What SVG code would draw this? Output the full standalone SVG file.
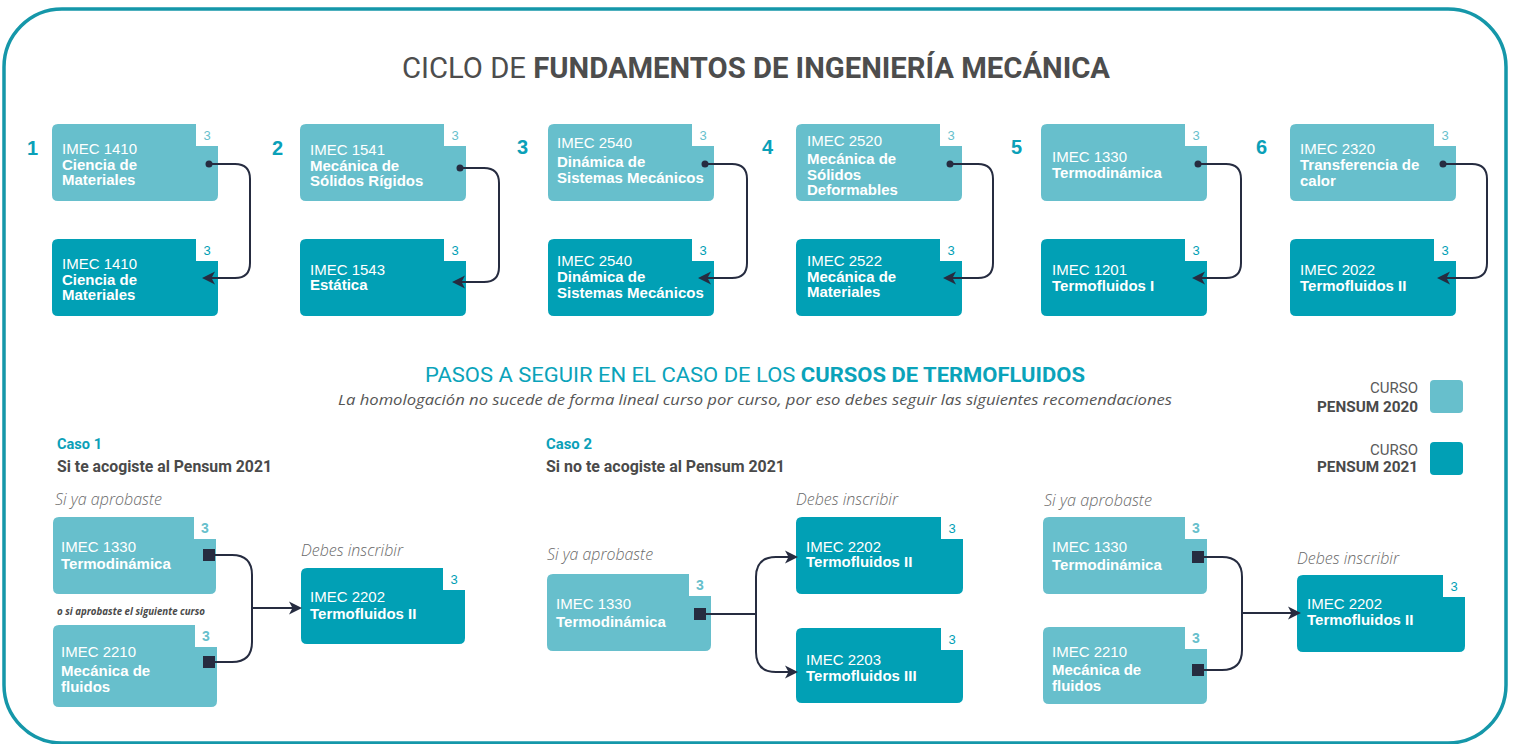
<svg xmlns="http://www.w3.org/2000/svg" xmlns:xlink="http://www.w3.org/1999/xlink" width="1517" height="744" viewBox="0 0 1517 744">
<style>
.bg{fill:#ffffff}
.frame{fill:none;stroke:#1597a9;stroke-width:3.5}
.light{fill:#67bfcc}
.dark{fill:#01a0b5}
.code{font-family:"Liberation Sans",Arial,sans-serif;font-size:15px;fill:#ffffff}
.name{font-family:"Liberation Sans",Arial,sans-serif;font-size:15px;font-weight:bold;fill:#ffffff}
.cr{font-family:"Liberation Sans",Arial,sans-serif;font-size:13px;text-anchor:middle}
.crl{fill:#67bfcc}
.crd{fill:#01a0b5}
.crb{font-weight:bold;font-size:14px}
.num{font-family:"Liberation Sans",Arial,sans-serif;font-size:20px;font-weight:bold;fill:#0aa0b8}
.din{font-family:Roboto,"DejaVu Sans",sans-serif}
.title{font-size:30px;fill:#4d4d4d}
.pasos{font-size:21px;fill:#0aa3ba}
.sub{font-family:"Open Sans",sans-serif;font-style:italic;font-weight:400;font-size:15px;fill:#555555}
.ital{font-family:"Open Sans",sans-serif;font-style:italic;font-weight:300;font-size:17px;fill:#6a6a6a}
.caso{font-size:15px;font-weight:bold;fill:#0aa0b8}
.casosub{font-size:16px;font-weight:bold;fill:#4a4a4a}
.leg1{font-size:15px;fill:#5a5a5a;text-anchor:end}
.leg2{font-size:15px;font-weight:bold;fill:#4a4a4a;text-anchor:end}
.small{font-family:"Open Sans",sans-serif;font-style:italic;font-weight:bold;font-size:10px;fill:#4a4a4a}
.conn{fill:none;stroke:#262c40;stroke-width:2}
.dot{fill:#262c40}
.sq{fill:#262c40}
</style>
<defs>
<path id="cardT" d="M6,0 H144 V22 H166 V71 Q166,77 160,77 H6 Q0,77 0,71 V6 Q0,0 6,0 Z"/>
<marker id="arr" markerUnits="userSpaceOnUse" markerWidth="16" markerHeight="14" viewBox="-15 -7 16 14" refX="-6" refY="0" orient="auto">
<path d="M0,0 L-13,-6.5 L-9.5,0 L-13,6.5 Z" fill="#262c40"/>
</marker>
</defs>
<rect class="bg" x="0" y="0" width="1517" height="744"/>
<rect class="frame" x="4" y="9" width="1502" height="734" rx="58" ry="58"/>

<g id="title">
<text class="din title" x="402" y="78" textLength="708" lengthAdjust="spacingAndGlyphs">CICLO DE <tspan font-weight="bold">FUNDAMENTOS DE INGENIERÍA MECÁNICA</tspan></text>
</g>

<g id="steps">
<text class="num" x="27" y="155">1</text>
<text class="num" x="272" y="155">2</text>
<text class="num" x="517" y="154">3</text>
<text class="num" x="762" y="154">4</text>
<text class="num" x="1011" y="154">5</text>
<text class="num" x="1256" y="154">6</text>
</g>

<g id="c1-old">
<use xlink:href="#cardT" href="#cardT" class="light" transform="translate(52,124)"/>
<text class="cr crl" x="207" y="140">3</text>
<text class="code" x="62" y="154">IMEC 1410</text>
<text class="name" x="62" y="170">Ciencia de</text>
<text class="name" x="62" y="185">Materiales</text>
</g>
<g id="c1-new">
<use xlink:href="#cardT" href="#cardT" class="dark" transform="translate(52,239)"/>
<text class="cr crd" x="207" y="255">3</text>
<text class="code" x="62" y="269">IMEC 1410</text>
<text class="name" x="62" y="285">Ciencia de</text>
<text class="name" x="62" y="300">Materiales</text>
</g>

<g id="c2-old">
<use xlink:href="#cardT" href="#cardT" class="light" transform="translate(300,124)"/>
<text class="cr crl" x="455" y="140">3</text>
<text class="code" x="310" y="155">IMEC 1541</text>
<text class="name" x="310" y="171">Mecánica de</text>
<text class="name" x="310" y="186">Sólidos Rígidos</text>
</g>
<g id="c2-new">
<use xlink:href="#cardT" href="#cardT" class="dark" transform="translate(300,239)"/>
<text class="cr crd" x="455" y="255">3</text>
<text class="code" x="310" y="275">IMEC 1543</text>
<text class="name" x="310" y="290">Estática</text>
</g>

<g id="c3-old">
<use xlink:href="#cardT" href="#cardT" class="light" transform="translate(548,124)"/>
<text class="cr crl" x="703" y="140">3</text>
<text class="code" x="557" y="148">IMEC 2540</text>
<text class="name" x="557" y="167">Dinámica de</text>
<text class="name" x="557" y="183">Sistemas Mecánicos</text>
</g>
<g id="c3-new">
<use xlink:href="#cardT" href="#cardT" class="dark" transform="translate(548,239)"/>
<text class="cr crd" x="703" y="255">3</text>
<text class="code" x="557" y="266">IMEC 2540</text>
<text class="name" x="557" y="282">Dinámica de</text>
<text class="name" x="557" y="298">Sistemas Mecánicos</text>
</g>

<g id="c4-old">
<use xlink:href="#cardT" href="#cardT" class="light" transform="translate(796,124)"/>
<text class="cr crl" x="951" y="140">3</text>
<text class="code" x="807" y="146">IMEC 2520</text>
<text class="name" x="807" y="164">Mecánica de</text>
<text class="name" x="807" y="180">Sólidos</text>
<text class="name" x="807" y="195">Deformables</text>
</g>
<g id="c4-new">
<use xlink:href="#cardT" href="#cardT" class="dark" transform="translate(796,239)"/>
<text class="cr crd" x="951" y="255">3</text>
<text class="code" x="807" y="266">IMEC 2522</text>
<text class="name" x="807" y="282">Mecánica de</text>
<text class="name" x="807" y="297">Materiales</text>
</g>

<g id="c5-old">
<use xlink:href="#cardT" href="#cardT" class="light" transform="translate(1041,124)"/>
<text class="cr crl" x="1196" y="140">3</text>
<text class="code" x="1052" y="162">IMEC 1330</text>
<text class="name" x="1052" y="178">Termodinámica</text>
</g>
<g id="c5-new">
<use xlink:href="#cardT" href="#cardT" class="dark" transform="translate(1041,239)"/>
<text class="cr crd" x="1196" y="255">3</text>
<text class="code" x="1052" y="275">IMEC 1201</text>
<text class="name" x="1052" y="291">Termofluidos I</text>
</g>

<g id="c6-old">
<use xlink:href="#cardT" href="#cardT" class="light" transform="translate(1290,124)"/>
<text class="cr crl" x="1445" y="140">3</text>
<text class="code" x="1300" y="154">IMEC 2320</text>
<text class="name" x="1300" y="170">Transferencia de</text>
<text class="name" x="1300" y="186">calor</text>
</g>
<g id="c6-new">
<use xlink:href="#cardT" href="#cardT" class="dark" transform="translate(1290,239)"/>
<text class="cr crd" x="1445" y="255">3</text>
<text class="code" x="1300" y="275">IMEC 2022</text>
<text class="name" x="1300" y="291">Termofluidos II</text>
</g>

<g id="pasos">
<text class="din pasos" x="425" y="382" textLength="660" lengthAdjust="spacingAndGlyphs">PASOS A SEGUIR EN EL CASO DE LOS <tspan font-weight="bold">CURSOS DE TERMOFLUIDOS</tspan></text>
<text class="sub" x="338" y="405" textLength="834" lengthAdjust="spacingAndGlyphs">La homologación no sucede de forma lineal curso por curso, por eso debes seguir las siguientes recomendaciones</text>
</g>

<g id="legend">
<text class="din leg1" x="1418" y="393">CURSO</text>
<text class="din leg2" x="1418" y="412" textLength="101" lengthAdjust="spacingAndGlyphs">PENSUM 2020</text>
<rect class="light" x="1430" y="380" width="33" height="33" rx="4"/>
<text class="din leg1" x="1418" y="455">CURSO</text>
<text class="din leg2" x="1418" y="472" textLength="101" lengthAdjust="spacingAndGlyphs">PENSUM 2021</text>
<rect class="dark" x="1430" y="442" width="33" height="33" rx="4"/>
</g>

<g id="caso1-head">
<text class="din caso" x="57" y="449" textLength="45" lengthAdjust="spacingAndGlyphs">Caso 1</text>
<text class="din casosub" x="57" y="472" textLength="215" lengthAdjust="spacingAndGlyphs">Si te acogiste al Pensum 2021</text>
<text class="ital" x="55" y="505" textLength="107" lengthAdjust="spacingAndGlyphs">Si ya aprobaste</text>
<text class="small" x="57" y="615" textLength="148" lengthAdjust="spacingAndGlyphs">o si aprobaste el siguiente curso</text>
<text class="ital" x="301" y="556" textLength="102" lengthAdjust="spacingAndGlyphs">Debes inscribir</text>
</g>
<g id="caso1-a">
<path class="light" d="M59,517 H194 V539 H216 V588 Q216,594 210,594 H59 Q53,594 53,588 V523 Q53,517 59,517Z"/>
<text class="cr crl crb" x="205" y="533">3</text>
<text class="code" x="61" y="552">IMEC 1330</text>
<text class="name" x="61" y="569">Termodinámica</text>
</g>
<g id="caso1-b">
<path class="light" d="M59,625 H195 V647 H217 V701 Q217,707 211,707 H59 Q53,707 53,701 V631 Q53,625 59,625Z"/>
<text class="cr crl crb" x="206" y="641">3</text>
<text class="code" x="61" y="657">IMEC 2210</text>
<text class="name" x="61" y="676">Mecánica de</text>
<text class="name" x="61" y="692">fluidos</text>
</g>
<g id="caso1-c">
<path class="dark" d="M307,568 H443 V590 H465 V638 Q465,644 459,644 H307 Q301,644 301,638 V574 Q301,568 307,568Z"/>
<text class="cr crd" x="454" y="584">3</text>
<text class="code" x="310" y="602">IMEC 2202</text>
<text class="name" x="310" y="619">Termofluidos II</text>
</g>

<g id="caso2-head">
<text class="din caso" x="546" y="449" textLength="46" lengthAdjust="spacingAndGlyphs">Caso 2</text>
<text class="din casosub" x="546" y="472" textLength="239" lengthAdjust="spacingAndGlyphs">Si no te acogiste al Pensum 2021</text>
<text class="ital" x="547" y="560" textLength="106" lengthAdjust="spacingAndGlyphs">Si ya aprobaste</text>
<text class="ital" x="796" y="505" textLength="102" lengthAdjust="spacingAndGlyphs">Debes inscribir</text>
</g>
<g id="caso2-a">
<path class="light" d="M553,574 H689 V596 H711 V645 Q711,651 705,651 H553 Q547,651 547,645 V580 Q547,574 553,574Z"/>
<text class="cr crl crb" x="700" y="590">3</text>
<text class="code" x="556" y="609">IMEC 1330</text>
<text class="name" x="556" y="627">Termodinámica</text>
</g>
<g id="caso2-b">
<path class="dark" d="M802,517 H941 V539 H963 V588 Q963,594 957,594 H802 Q796,594 796,588 V523 Q796,517 802,517Z"/>
<text class="cr crd" x="952" y="533">3</text>
<text class="code" x="806" y="552">IMEC 2202</text>
<text class="name" x="806" y="567">Termofluidos II</text>
</g>
<g id="caso2-c">
<path class="dark" d="M802,628 H941 V650 H963 V697 Q963,703 957,703 H802 Q796,703 796,697 V634 Q796,628 802,628Z"/>
<text class="cr crd" x="952" y="644">3</text>
<text class="code" x="806" y="665">IMEC 2203</text>
<text class="name" x="806" y="681">Termofluidos III</text>
</g>

<g id="caso3-head">
<text class="ital" x="1044" y="506" textLength="108" lengthAdjust="spacingAndGlyphs">Si ya aprobaste</text>
<text class="ital" x="1297" y="564" textLength="102" lengthAdjust="spacingAndGlyphs">Debes inscribir</text>
</g>
<g id="caso3-a">
<path class="light" d="M1049,517 H1185 V539 H1207 V588 Q1207,594 1201,594 H1049 Q1043,594 1043,588 V523 Q1043,517 1049,517Z"/>
<text class="cr crl crb" x="1196" y="533">3</text>
<text class="code" x="1052" y="552">IMEC 1330</text>
<text class="name" x="1052" y="570">Termodinámica</text>
</g>
<g id="caso3-b">
<path class="light" d="M1049,627 H1185 V649 H1207 V698 Q1207,704 1201,704 H1049 Q1043,704 1043,698 V633 Q1043,627 1049,627Z"/>
<text class="cr crl crb" x="1196" y="643">3</text>
<text class="code" x="1052" y="657">IMEC 2210</text>
<text class="name" x="1052" y="675">Mecánica de</text>
<text class="name" x="1052" y="691">fluidos</text>
</g>
<g id="caso3-c">
<path class="dark" d="M1303,575 H1443 V597 H1465 V646 Q1465,652 1459,652 H1303 Q1297,652 1297,646 V581 Q1297,575 1303,575Z"/>
<text class="cr crd" x="1454" y="591">3</text>
<text class="code" x="1307" y="609">IMEC 2202</text>
<text class="name" x="1307" y="625">Termofluidos II</text>
</g>

<g id="connectors">
<path class="conn" d="M209,164 H235 Q250,164 250,179 V263 Q250,278 235,278 H208" marker-end="url(#arr)"/>
<circle class="dot" cx="209" cy="164" r="3.5"/>
<path class="conn" d="M460,168 H484 Q499,168 499,183 V267 Q499,282 484,282 H458" marker-end="url(#arr)"/>
<circle class="dot" cx="460" cy="168" r="3.5"/>
<path class="conn" d="M705,164 H732 Q747,164 747,179 V263 Q747,278 732,278 H704" marker-end="url(#arr)"/>
<circle class="dot" cx="705" cy="164" r="3.5"/>
<path class="conn" d="M950,164 H978 Q993,164 993,179 V263 Q993,278 978,278 H949" marker-end="url(#arr)"/>
<circle class="dot" cx="950" cy="164" r="3.5"/>
<path class="conn" d="M1198,164 H1226 Q1241,164 1241,179 V263 Q1241,278 1226,278 H1198" marker-end="url(#arr)"/>
<circle class="dot" cx="1198" cy="164" r="3.5"/>
<path class="conn" d="M1443,164 H1472 Q1487,164 1487,179 V263 Q1487,278 1472,278 H1443" marker-end="url(#arr)"/>
<circle class="dot" cx="1443" cy="164" r="3.5"/>

<path class="conn" d="M215,555 H232 Q252,555 252,575 V642 Q252,662 232,662 H215"/>
<path class="conn" d="M252,608 H296" marker-end="url(#arr)"/>
<rect class="sq" x="203" y="549" width="12" height="12"/>
<rect class="sq" x="203" y="656" width="12" height="12"/>

<path class="conn" d="M706,614 H756"/>
<path class="conn" d="M756,614 V577 Q756,557 776,557 H792" marker-end="url(#arr)"/>
<path class="conn" d="M756,614 V652 Q756,672 776,672 H792" marker-end="url(#arr)"/>
<rect class="sq" x="694" y="608" width="12" height="12"/>

<path class="conn" d="M1204,557 H1222 Q1242,557 1242,577 V650 Q1242,670 1222,670 H1204"/>
<path class="conn" d="M1242,613 H1295" marker-end="url(#arr)"/>
<rect class="sq" x="1192" y="551" width="12" height="12"/>
<rect class="sq" x="1192" y="664" width="12" height="12"/>
</g>
</svg>
